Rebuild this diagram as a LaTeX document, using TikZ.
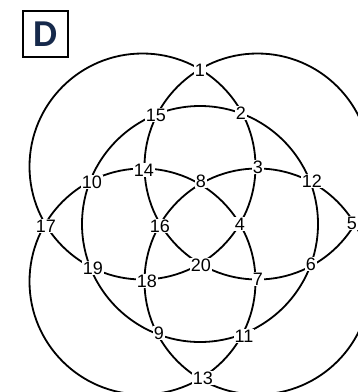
\documentclass[tikz,border=0pt]{standalone}
\usepackage{fontspec}
\setsansfont{Liberation Sans}
\newfontfamily\panelfont{Carlito}
\usetikzlibrary{positioning}
\definecolor{letterblue}{RGB}{22,41,75}
\tikzset{
  ring/.style={draw=black, line width=1.8pt},
  numlabel/.style={fill=white, inner sep=1pt,
                   font=\sffamily\fontsize{18}{18}\selectfont},
  panelbox/.style={draw=black, line width=1.5pt, minimum width=45pt,
                   minimum height=46pt, text=letterblue,
                   font=\panelfont\bfseries\fontsize{38}{38}\selectfont},
}

\begin{document}
\begin{tikzpicture}[x=1pt, y=-1pt]
  \useasboundingbox (0,0) rectangle (358,392);
  \clip (0,0) rectangle (358,392);
  % panel letter
  \node[panelbox] (panel) at (45.5,34) {D};
  % central circle and the four diagonal circles
  \coordinate (mid) at (200,224);
  \draw[ring] (mid) circle (118pt);
  \foreach \cx/\cy in {142.5/166.5, 257.5/166.5, 142.5/281.5, 257.5/281.5}
    \draw[ring] (\cx,\cy) circle (113pt);
  % numbered crossings
  \foreach \num/\px/\py in {1/200/70, 2/241/113, 3/258/167, 4/240/224,
      6/311/264, 7/258/279, 8/201/181, 9/159/333, 10/92/182,
      11/244/336, 12/312/181, 13/203/378, 14/144/170, 15/156/115,
      16/160/226, 17/46/226, 18/147/281, 19/93/268, 20/201/265}
    \node[numlabel] (n\num) at (\px,\py) {\num};
  \node[numlabel, inner xsep=4pt] (n5) at (352,223) {5};
\end{tikzpicture}
\end{document}
